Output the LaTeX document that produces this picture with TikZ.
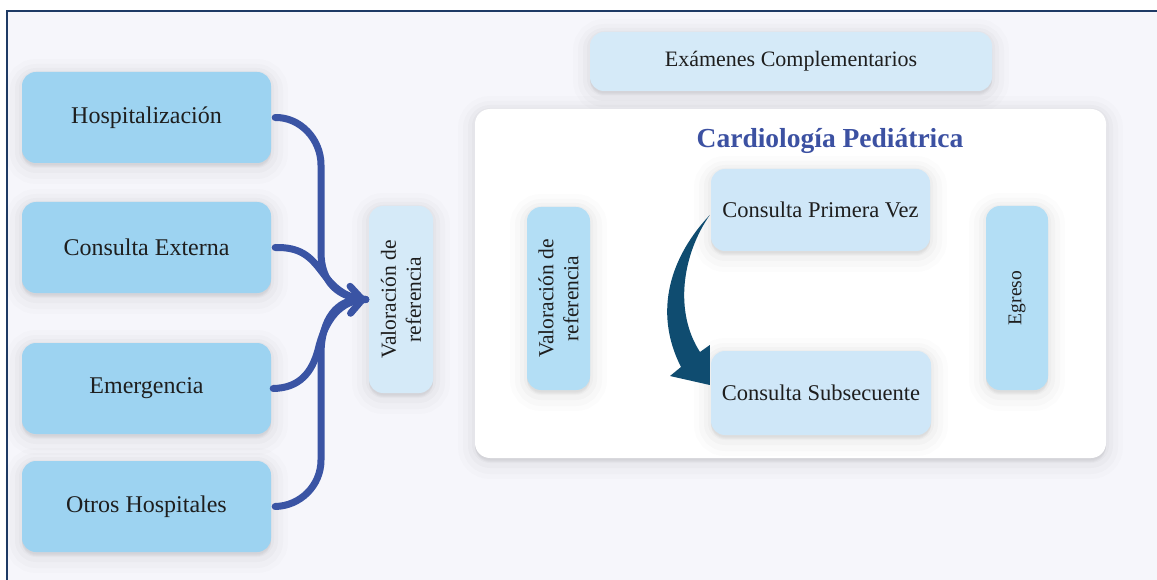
\documentclass[tikz,border=0pt]{standalone}
\usepackage{fontspec}
\setmainfont{Liberation Serif}
\usetikzlibrary{arrows.meta}
\definecolor{frameC}{HTML}{1E3A65}
\definecolor{bgC}{HTML}{F6F6FB}
\definecolor{leftC}{HTML}{9DD3F1}
\definecolor{paleC}{HTML}{D5EAF8}
\definecolor{midC}{HTML}{B3DEF5}
\definecolor{consC}{HTML}{CFE7F8}
\definecolor{arrowC}{HTML}{3A54A4}
\definecolor{darkC}{HTML}{0F4C70}
\definecolor{titleC}{HTML}{3C51A2}
\definecolor{txtC}{HTML}{1E1E1E}
\tikzset{
  softshadow/.style={
    preaction={draw=black,fill=black,opacity=0.012,line width=34pt,transform canvas={yshift=-4pt}},
    preaction={draw=black,fill=black,opacity=0.015,line width=24pt,transform canvas={yshift=-4pt}},
    preaction={draw=black,fill=black,opacity=0.018,line width=14pt,transform canvas={yshift=-3pt}},
    preaction={draw=black,fill=black,opacity=0.02,line width=6pt,transform canvas={yshift=-2pt}}},
  box/.style={softshadow,rounded corners=14pt,inner sep=0pt,text=txtC,align=center},
  leftbox/.style={box,fill=leftC,minimum width=249pt,minimum height=91pt,font=\fontsize{24}{28}\selectfont},
  flow/.style={draw=arrowC,line width=7pt,line cap=round},
  flowtip/.style={flow,-{Straight Barb[length=12pt,width=27pt,line cap=round,line join=round]}},
}
\begin{document}
\begin{tikzpicture}[x=1pt,y=-1pt]
\useasboundingbox (0,0) rectangle (1157,580);
\fill[white] (0,0) rectangle (1157,580);
\draw[frameC,fill=bgC,line width=2pt] (7,11) rectangle (1170,595);

% left sources
\node[leftbox] (hosp) at (146.5,117.5) {Hospitalización};
\node[leftbox] (ext) at (146.5,247.5) {Consulta Externa};
\node[leftbox] (emer) at (146.5,388.5) {Emergencia};
\node[leftbox] (otros) at (146.5,506.5) {Otros Hospitales};

% middle referral node
\node[box,fill=paleC,rotate=90,minimum width=187pt,minimum height=64pt,
      font=\fontsize{21.5}{25}\selectfont] (valmid) at (401,299.5) {Valoración de\\referencia};

% exams
\node[box,fill=paleC,minimum width=402pt,minimum height=59pt,
      font=\fontsize{22}{26}\selectfont] (exam) at (791,61.5) {Exámenes Complementarios};

% panel
\node[softshadow,fill=white,rounded corners=15pt,minimum width=631pt,minimum height=349pt,inner sep=0pt] (panel) at (790.5,283.5) {};
\node[text=titleC,font=\fontsize{27.5}{30}\selectfont\bfseries] (title) at (830,141) {Cardiología Pediátrica};

\node[box,fill=midC,rotate=90,minimum width=183pt,minimum height=63pt,
      font=\fontsize{21.5}{25}\selectfont] (valin) at (558.5,298.5) {Valoración de\\referencia};
\node[box,fill=consC,minimum width=219pt,minimum height=82pt,
      font=\fontsize{22.5}{26}\selectfont] (prim) at (820.5,210) {Consulta Primera Vez};
\node[box,fill=consC,minimum width=220pt,minimum height=84pt,
      font=\fontsize{22.5}{26}\selectfont] (subs) at (821,393) {Consulta Subsecuente};
\node[box,fill=midC,rotate=90,minimum width=184pt,minimum height=62pt,
      font=\fontsize{19.5}{23}\selectfont] (egreso) at (1017,298) {Egreso};

% blue converging arrows
\coordinate (tip) at ([xshift=-3pt]valmid.north);
\draw[flow] ([xshift=4pt]hosp.east) .. controls (300,117) and (321,139) .. (321,165) -- (321,252) .. controls (321,282) and (338,298) .. (tip);
\draw[flow] ([xshift=4pt]ext.east) .. controls (300,247) and (310,256) .. (322,272) .. controls (334,288) and (345,298) .. (tip);
\draw[flow] ([xshift=2pt]emer.east) .. controls (300,388) and (312,372) .. (318,350) .. controls (325,320) and (340,300) .. (tip);
\draw[flowtip] ([xshift=4pt]otros.east) .. controls (300,506) and (321,486) .. (321,460) -- (321,355) .. controls (321,318) and (338,300) .. (tip);

% dark curved arrow
\fill[darkC] ([xshift=-1pt]prim.west |- 0,215) .. controls (672,255) and (652,310) .. (681,367)
  -- (670,376) -- ([xshift=-1pt]subs.west |- 0,385) -- ([xshift=-1pt]subs.west |- 0,345) -- (700,352)
  .. controls (674,312) and (682,255) .. ([xshift=-1pt]prim.west |- 0,215) -- cycle;
\end{tikzpicture}
\end{document}
